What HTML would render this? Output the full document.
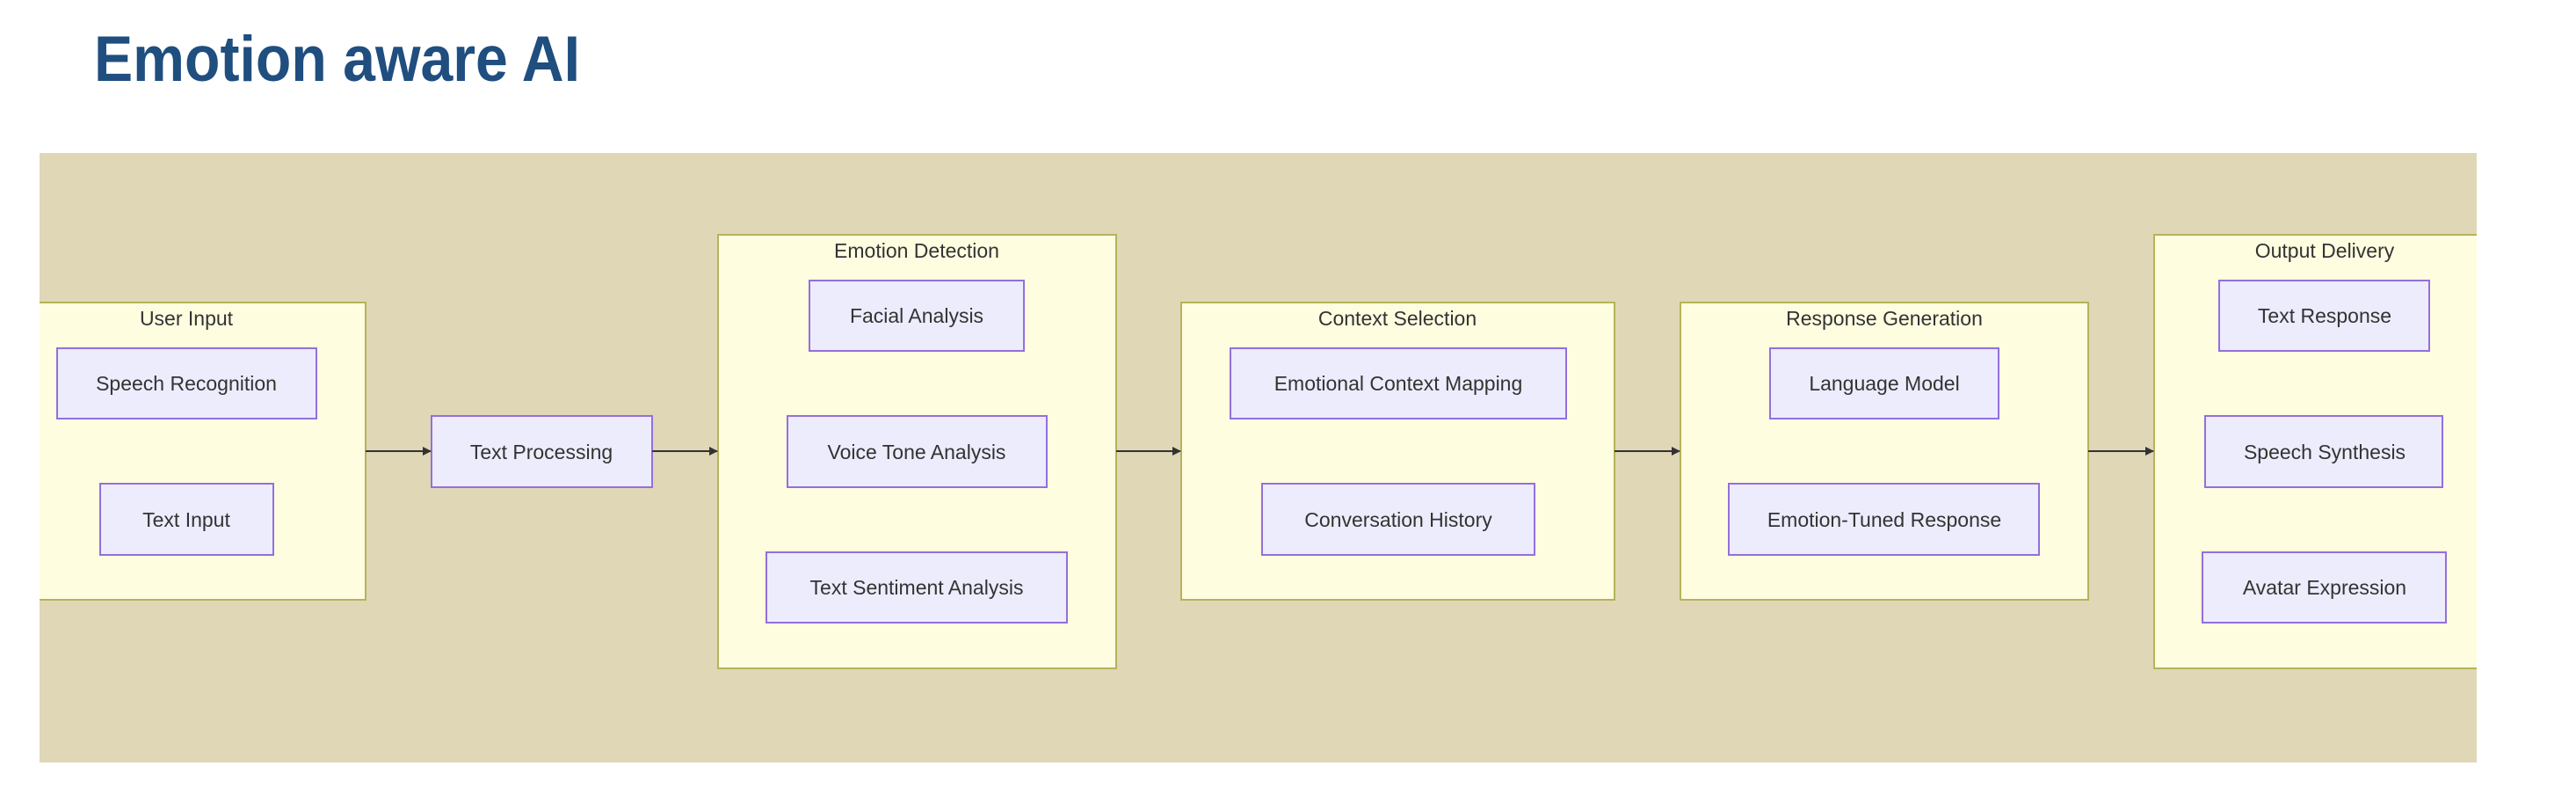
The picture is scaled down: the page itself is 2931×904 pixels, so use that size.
<!DOCTYPE html>
<html><head><meta charset="utf-8"><style>
html,body{margin:0;padding:0;background:#fff;}
svg{display:block;}
text{font-family:"Liberation Sans",sans-serif;}
</style></head><body>
<svg width="2931" height="904" viewBox="0 0 2931 904" xmlns="http://www.w3.org/2000/svg">
<defs>
<marker id="ah" markerWidth="10" markerHeight="10" refX="9" refY="5" orient="auto" markerUnits="userSpaceOnUse">
<path d="M0,0 L10,5 L0,10 z" fill="#333"/>
</marker>
</defs>
<text x="107" y="92" font-size="73" font-weight="bold" fill="#1f4e7f" textLength="553" lengthAdjust="spacingAndGlyphs">Emotion aware AI</text>
<rect x="45" y="174" width="2773" height="693" fill="#e0d7b7"/>
<g fill="#fffde0" stroke="#b5b35a" stroke-width="2">
<rect x="30" y="344" width="386" height="338"/>
<rect x="817" y="267" width="453" height="493"/>
<rect x="1344" y="344" width="493" height="338"/>
<rect x="1912" y="344" width="464" height="338"/>
<rect x="2451" y="267" width="380" height="493"/>
</g>
<rect x="0" y="340" width="45" height="346" fill="#fff"/>
<rect x="2818" y="260" width="113" height="510" fill="#fff"/>
<g font-size="23" fill="#333" text-anchor="middle">
<text x="212" y="370">User Input</text>
<text x="1043" y="293">Emotion Detection</text>
<text x="1590" y="370">Context Selection</text>
<text x="2144" y="370">Response Generation</text>
<text x="2645" y="293">Output Delivery</text>
</g>
<g fill="#ececfd" stroke="#9370db" stroke-width="2">
<rect x="65" y="396" width="295" height="80"/>
<rect x="114" y="550" width="197" height="81"/>
<rect x="491" y="473" width="251" height="81"/>
<rect x="921" y="319" width="244" height="80"/>
<rect x="896" y="473" width="295" height="81"/>
<rect x="872" y="628" width="342" height="80"/>
<rect x="1400" y="396" width="382" height="80"/>
<rect x="1436" y="550" width="310" height="81"/>
<rect x="2014" y="396" width="260" height="80"/>
<rect x="1967" y="550" width="353" height="81"/>
<rect x="2525" y="319" width="239" height="80"/>
<rect x="2509" y="473" width="270" height="81"/>
<rect x="2506" y="628" width="277" height="80"/>
</g>
<g font-size="23" fill="#333" text-anchor="middle">
<text x="212" y="444">Speech Recognition</text>
<text x="212" y="599">Text Input</text>
<text x="616" y="522">Text Processing</text>
<text x="1043" y="367">Facial Analysis</text>
<text x="1043" y="522">Voice Tone Analysis</text>
<text x="1043" y="676">Text Sentiment Analysis</text>
<text x="1591" y="444">Emotional Context Mapping</text>
<text x="1591" y="599">Conversation History</text>
<text x="2144" y="444">Language Model</text>
<text x="2144" y="599">Emotion-Tuned Response</text>
<text x="2645" y="367">Text Response</text>
<text x="2645" y="522">Speech Synthesis</text>
<text x="2645" y="676">Avatar Expression</text>
</g>
<g stroke="#333" stroke-width="2" marker-end="url(#ah)">
<line x1="416" y1="513" x2="490" y2="513"/>
<line x1="742" y1="513" x2="816" y2="513"/>
<line x1="1270" y1="513" x2="1343" y2="513"/>
<line x1="1837" y1="513" x2="1911" y2="513"/>
<line x1="2376" y1="513" x2="2450" y2="513"/>
</g>
</svg>
</body></html>
